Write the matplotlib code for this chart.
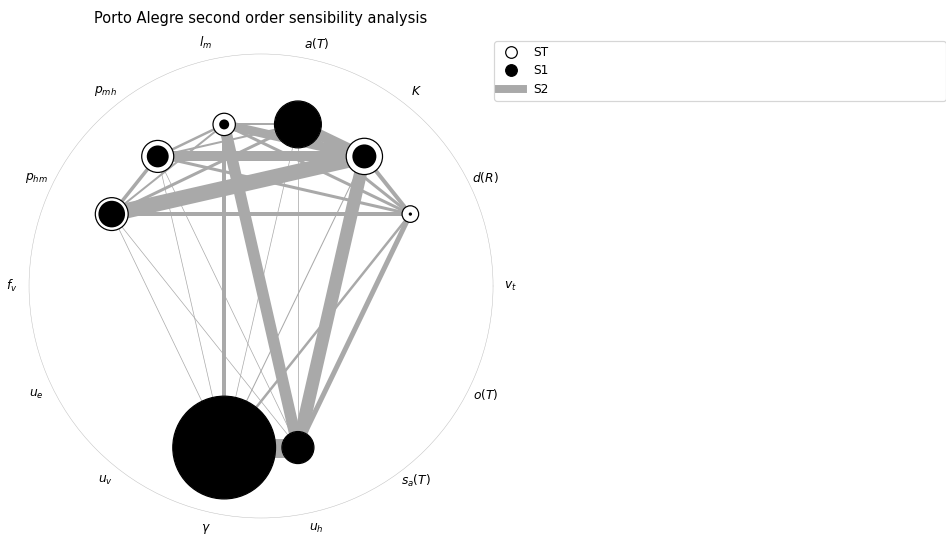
import numpy as np
import matplotlib
matplotlib.use('Agg')
import matplotlib.pyplot as plt
from matplotlib.lines import Line2D

# parameters, counter-clockwise starting at 0 rad
keys = ['vt', 'dR', 'K', 'aT', 'lm', 'pmh', 'phm', 'fv', 'ue', 'uv', 'gamma', 'uh', 'saT', 'oT']
labels = [r'$v_t$', r'$d(R)$', r'$K$', r'$a(T)$', r'$l_m$', r'$p_{mh}$', r'$p_{hm}$',
          r'$f_v$', r'$u_e$', r'$u_v$', r'$\gamma$', r'$u_h$', r'$s_a(T)$', r'$o(T)$']

ST = [0.004, 0.0107, 0.066, 0.115, 0.022, 0.050, 0.053, 0.003, 0.002, 0.005, 0.600, 0.050, 0.006, 0.004]
S1 = [0.000, 0.000, 0.026, 0.113, 0.0027, 0.021, 0.033, 0.000, 0.000, 0.000, 0.598, 0.049, 0.000, 0.000]

# second order indices between the retained parameters
s2_pairs = [('aT', 'K'), ('aT', 'dR'), ('aT', 'uh'), ('aT', 'gamma'), ('aT', 'phm'),
            ('aT', 'pmh'), ('aT', 'lm'), ('K', 'dR'), ('K', 'uh'), ('K', 'gamma'),
            ('K', 'phm'), ('K', 'pmh'), ('K', 'lm'), ('dR', 'uh'), ('dR', 'gamma'),
            ('dR', 'phm'), ('dR', 'pmh'), ('dR', 'lm'), ('uh', 'gamma'), ('uh', 'phm'),
            ('uh', 'pmh'), ('uh', 'lm'), ('gamma', 'phm'), ('gamma', 'pmh'), ('gamma', 'lm'),
            ('phm', 'pmh'), ('phm', 'lm'), ('pmh', 'lm')]
s2_values = [0.0255, 0.0059, 0.0003, 0.0002, 0.0059,
             0.0034, 0.0034, 0.0083, 0.0304, 0.0010,
             0.0365, 0.0230, 0.0206, 0.0108, 0.0046,
             0.0083, 0.0059, 0.0059, 0.0450, 0.0002,
             0.0002, 0.0267, 0.0002, 0.0002, 0.0083,
             0.0071, 0.0034, 0.0046]

threshold = 0.01
max_lw = 15
max_radius = 0.3


def normalize(x, xmin, xmax):
    return (x - xmin) / (xmax - xmin)


n = len(keys)
locs = np.linspace(0, 2 * np.pi, n, endpoint=False)
loc_of = dict(zip(keys, locs))
kept = [k for k, st in zip(keys, ST) if st > threshold]

smin = min(min(ST), min(S1))
smax = max(max(ST), max(S1))
s2min = 0.0
s2max = max(s2_values)

dpi = 88
fig = plt.figure(figsize=(946 / dpi, 536 / dpi), dpi=dpi)
ax = fig.add_axes([0.0307, 0.0336, 0.4905, 0.8657], polar=True)
ax.grid(False)
ax.spines['polar'].set_linewidth(0.4)
ax.spines['polar'].set_color('0.75')
ax.set_xticks(locs)
ax.set_xticklabels(labels)
ax.set_yticks([])
ax.set_ylim(0, 1.4)
ax.set_title('Porto Alegre second order sensibility analysis', y=1.052)

# circles live in cartesian coordinates of the polar plane
cart = ax.transProjectionAffine + ax.transWedge + ax.transAxes
for values, fc, ec, z in [(ST, 'w', 'k', 9), (S1, 'k', 'none', 10)]:
    for k, v in zip(keys, values):
        if k not in kept:
            continue
        rad = 0.01 + max_radius * np.sqrt(normalize(v, smin, smax))
        loc = loc_of[k]
        circle = plt.Circle((np.cos(loc), np.sin(loc)), radius=rad, fc=fc, ec=ec,
                            lw=1, zorder=z, transform=cart)
        ax.add_artist(circle)

for (a, b), w in zip(s2_pairs, s2_values):
    if a not in kept or b not in kept:
        continue
    lw = 0.5 + max_lw * normalize(w, s2min, s2max)
    ax.plot([loc_of[a], loc_of[b]], [1, 1], c='darkgray', lw=lw, zorder=1)

handles = [
    Line2D([0], [0], marker='o', ls='none', markerfacecolor='w', markeredgecolor='k', markersize=9.5),
    Line2D([0], [0], marker='o', ls='none', markerfacecolor='k', markeredgecolor='k', markersize=9.5),
    Line2D([0], [0], color='darkgray', lw=6.5),
]
ax.legend(handles, ['ST', 'S1', 'S2'], loc='upper left', bbox_to_anchor=(0.989, 1.041, 1.0, 0.0),
          mode='expand', labelspacing=0.45)

fig.savefig('out.png', dpi=dpi)
